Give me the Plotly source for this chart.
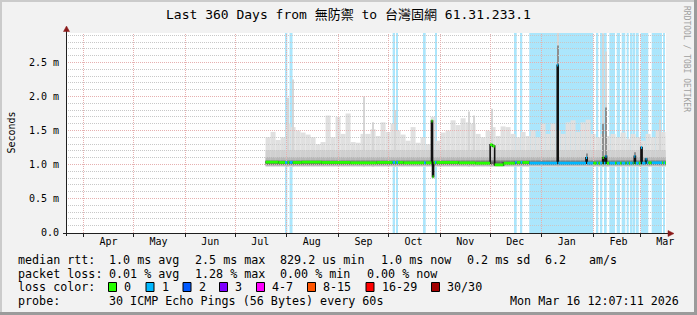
import math
import pandas as pd
import plotly.graph_objects as go

# ---------------- layout constants ----------------
W, H = 697, 315
ML, MR, MT, MB = 66, 31, 33, 82
PW, PH = W - ML - MR, H - MT - MB
MONO = "DejaVu Sans Mono, Noto Sans CJK TC, monospace"
PX_PER_MS = 68.0

T_START = "2025-03-21 12:07:11"
T_END = "2026-03-16 12:07:11"
Y_MIN, Y_MAX = -0.5 / PX_PER_MS, (PH - 0.5) / PX_PER_MS

# ---------------- data (values in ms) ----------------
y_tick_vals = [0.0, 0.5, 1.0, 1.5, 2.0, 2.5]
y_tick_text = ["0.0", "0.5 m", "1.0 m", "1.5 m", "2.0 m", "2.5 m"]

month_starts = ["2025-04-01", "2025-05-01", "2025-06-01", "2025-07-01", "2025-08-01",
                "2025-09-01", "2025-10-01", "2025-11-01", "2025-12-01", "2026-01-01",
                "2026-02-01", "2026-03-01"]
month_label_dates = ["2025-04-16", "2025-05-16", "2025-06-16", "2025-07-16", "2025-08-16",
                     "2025-09-16", "2025-10-16", "2025-11-16", "2025-12-16", "2026-01-16",
                     "2026-02-16", "2026-03-16"]
month_labels = ["Apr", "May", "Jun", "Jul", "Aug", "Sep", "Oct", "Nov", "Dec", "Jan", "Feb", "Mar"]

# packet-loss periods (background shading)
loss_start = ["2025-07-30 22:00", "2025-08-02 15:00", "2025-10-03 12:00", "2025-10-05 16:00",
              "2025-10-22 07:00", "2025-10-28 22:00", "2025-12-15 21:00", "2025-12-19 07:00",
              "2025-12-24 11:00", "2026-02-02 22:00", "2026-02-04 22:00", "2026-02-07 07:00",
              "2026-02-10 12:00", "2026-02-14 22:00", "2026-02-17 22:00", "2026-02-20 22:00",
              "2026-02-22 22:00", "2026-02-25 03:00", "2026-02-26 12:00", "2026-03-01 07:00",
              "2026-03-07 22:00", "2026-03-14 21:00"]
loss_end = ["2025-08-01 07:00", "2025-08-04 10:00", "2025-10-04 22:00", "2025-10-06 17:00",
            "2025-10-23 08:00", "2025-10-29 16:00", "2025-12-16 22:00", "2025-12-20 06:00",
            "2026-01-31 21:00", "2026-02-03 21:00", "2026-02-06 07:00", "2026-02-08 22:00",
            "2026-02-13 22:00", "2026-02-16 22:00", "2026-02-20 02:00", "2026-02-22 03:00",
            "2026-02-24 12:00", "2026-02-26 02:00", "2026-02-28 03:00", "2026-03-05 21:00",
            "2026-03-14 02:00", "2026-03-15 21:00"]

# smoke (max of the 30 pings), 3-day bins
smoke_bin_start = "2025-07-19 06:00"
smoke_bin_days = 3
smoke_top = [1.40, 1.48, 1.36, 1.40, 1.60, 1.55, 1.50, 1.47, 1.44, 1.40,
             1.30, 1.33, 1.72, 1.40, 1.70, 1.45, 1.75, 1.33, 1.32, 1.45,
             1.45, 1.52, 1.42, 1.62, 1.48, 1.60, 1.50, 1.44, 1.35, 1.55,
             1.32, 1.40, 1.30, 1.70, 1.35, 1.47, 1.50, 1.65, 1.58, 1.68,
             1.62, 1.60, 1.45, 1.40, 1.50, 1.55, 1.42, 1.56, 1.55, 1.45,
             1.40, 1.48, 1.42, 1.50, 1.40, 1.60, 1.45, 1.60, 1.50, 1.45,
             1.62, 1.65, 1.48, 1.62, 1.66, 1.45, 1.40, 1.45, 1.42, 1.45,
             1.40, 1.47, 1.38, 1.45, 1.40, 1.35, 1.45, 1.40, 1.50, 1.48,
             1.42]
smoke_floor = 0.965
smoke_inner_lo = [0.975, 0.985, 0.99, 1.00]
smoke_inner_hi = [1.21, 1.11, 1.065, 1.045]

# narrow smoke spikes (single columns)
spike_t = ["2025-08-01 19:00", "2025-08-04 17:00", "2025-09-16 07:00", "2025-09-21 17:00",
           "2025-10-04 22:00", "2025-11-18 07:00", "2025-11-21 07:00", "2025-12-02 02:00",
           "2026-01-10 13:00", "2026-02-06 21:00", "2026-02-08 12:00", "2026-03-01 19:00",
           "2026-03-12 21:00"]
spike_top = [1.98, 2.25, 2.00, 1.62, 1.80, 1.78, 1.72, 1.82, 2.94, 2.93, 2.66, 1.32, 1.66]
dark_spike_t = ["2026-01-10 13:00", "2026-02-06 21:00", "2026-02-08 12:00",
                "2026-01-28 00:00", "2026-02-25 22:00"]
dark_spike_top = [2.75, 1.60, 1.84, 1.16, 1.18]

# median rtt, step changes
median_t = ["2025-07-19 06:00", "2025-07-27 00:00", "2025-08-10 00:00", "2025-08-22 00:00",
            "2025-09-08 00:00", "2025-09-24 00:00", "2025-10-10 00:00", "2025-10-26 19:00",
            "2025-10-27 10:00", "2025-10-28 02:00", "2025-11-12 00:00", "2025-11-22 00:00",
            "2025-12-01 00:00", "2025-12-02 10:00", "2025-12-03 17:00", "2025-12-09 00:00",
            "2025-12-16 00:00", "2025-12-24 11:00", "2026-01-10 06:00", "2026-01-10 20:00",
            "2026-01-27 12:00", "2026-01-28 04:00", "2026-02-06 12:00", "2026-02-07 04:00",
            "2026-02-08 04:00", "2026-02-08 20:00", "2026-02-25 12:00", "2026-02-26 04:00",
            "2026-03-01 12:00", "2026-03-02 04:00", "2026-03-04 06:00", "2026-03-04 22:00"]
median_v = [1.035, 1.03, 1.035, 1.03, 1.025, 1.03, 1.025, 1.64,
            0.82, 1.03, 1.025, 1.02, 1.29, 1.27, 0.995, 1.02,
            1.03, 1.02, 2.46, 1.02, 1.10, 1.02, 1.10, 1.02,
            1.12, 1.02, 1.12, 1.02, 1.25, 1.02, 1.08, 1.025]
median_end = "2026-03-16 12:00"

# legend text
title_text = "Last 360 Days from 無防禦 to 台灣固網 61.31.233.1"
legend_line1 = [("median rtt:", 16), ("1.0 ms avg", 107), ("2.5 ms max", 193),
                ("829.2 us min", 278), ("1.0 ms now", 379), ("0.2 ms sd", 465),
                ("6.2", 543), ("am/s", 587)]
legend_line2 = [("packet loss:", 16), ("0.01 % avg", 107), ("1.28 % max", 193),
                ("0.00 % min", 278), ("0.00 % now", 365)]
loss_color_labels = ["0", "1", "2", "3", "4-7", "8-15", "16-29", "30/30"]
loss_color_values = ["#26ff00", "#00b8ff", "#0059ff", "#7e00ff", "#ff00ff", "#ff5500",
                     "#ff0000", "#a10000"]
loss_box_x = [108, 145.5, 182.5, 219, 256, 307, 365.5, 431]
probe_text = "30 ICMP Echo Pings (56 Bytes) every 60s"
stamp_text = "Mon Mar 16 12:07:11 2026"

# ---------------- styles ----------------
LOSS_BG = "#abe6fc"
SMOKE_LIGHT = "#e0e0e0"
SMOKE_INNER = ["#d0d0d0", "#b8b8b8", "#959595", "#6a6a6a"]
SPIKE_LIGHT = "#d6d6d6"
SPIKE_DARK = "#8e8e8e"
GRID_MINOR = "#c8c8c8"
GRID_MAJOR = "#e6b0b0"
GREEN = loss_color_values[0]
BLUE = loss_color_values[1]

t0, t1 = pd.Timestamp(T_START), pd.Timestamp(T_END)


def px(x):
    return (x - ML) / PW


def py(y):
    return (MT + PH - y) / PH


def snap_t(t):
    f = (pd.Timestamp(t) - t0) / (t1 - t0) * PW
    return t0 + (t1 - t0) * ((math.floor(f) + 0.5) / PW)


def snap_v(v):
    f = (v - Y_MIN) * PX_PER_MS
    return Y_MIN + (math.floor(f) + 0.5) / PX_PER_MS


fig = go.Figure()

# loss shading
ls = pd.to_datetime(loss_start)
le = pd.to_datetime(loss_end)
fig.add_trace(go.Bar(x=ls + (le - ls) / 2, y=[Y_MAX - Y_MIN] * len(ls), base=Y_MIN,
                     width=[(b - a).total_seconds() * 1000 for a, b in zip(ls, le)],
                     marker=dict(color=LOSS_BG, line=dict(width=0)), hoverinfo="skip"))

# smoke
bin0 = pd.Timestamp(smoke_bin_start)
bw = pd.Timedelta(days=smoke_bin_days)
centers = [bin0 + bw * (k + 0.5) for k in range(len(smoke_top))]
bw_ms = bw.total_seconds() * 1000
fig.add_trace(go.Bar(x=centers, y=[v - smoke_floor for v in smoke_top], base=smoke_floor,
                     width=bw_ms, marker=dict(color=SMOKE_LIGHT, line=dict(width=0)),
                     hoverinfo="skip"))
col_ms = pd.Timedelta(hours=16).total_seconds() * 1000
fig.add_trace(go.Bar(x=pd.to_datetime(spike_t), y=[v - smoke_floor for v in spike_top],
                     base=smoke_floor, width=col_ms,
                     marker=dict(color=SPIKE_LIGHT, line=dict(width=0)), hoverinfo="skip"))
for lo, hi, c in zip(smoke_inner_lo, smoke_inner_hi, SMOKE_INNER):
    fig.add_trace(go.Bar(x=centers, y=[hi - lo] * len(centers), base=lo, width=bw_ms,
                         marker=dict(color=c, line=dict(width=0)), hoverinfo="skip"))
fig.add_trace(go.Bar(x=pd.to_datetime(dark_spike_t), y=[v - 1.0 for v in dark_spike_top],
                     base=1.0, width=col_ms,
                     marker=dict(color=SPIKE_DARK, line=dict(width=0)), hoverinfo="skip"))

# grid drawn over shading (snapped to pixel centres)
hx, hy, mx, my = [], [], [], []
for i in range(1, 30):
    v = snap_v(i / 10)
    if i % 5 == 0:
        mx += [t0, t1, None]
        my += [v, v, None]
    else:
        hx += [t0, t1, None]
        hy += [v, v, None]
for m in month_starts:
    ts = snap_t(m)
    mx += [ts, ts, None]
    my += [Y_MIN, Y_MAX, None]
fig.add_trace(go.Scatter(x=hx, y=hy, mode="lines", hoverinfo="skip",
                         line=dict(color=GRID_MINOR, width=1, dash="1px,1px")))
fig.add_trace(go.Scatter(x=mx, y=my, mode="lines", hoverinfo="skip",
                         line=dict(color=GRID_MAJOR, width=1, dash="1px,1px")))

# median line: black steps, coloured by loss
mt = list(pd.to_datetime(median_t)) + [pd.Timestamp(median_end)]
fig.add_trace(go.Scatter(x=mt, y=median_v + [median_v[-1]], mode="lines",
                         line=dict(color="#111111", width=1.6, shape="hv"), hoverinfo="skip"))
edges = set(mt)
for a, b in zip(ls, le):
    edges.add(a)
    edges.add(b)
edges = sorted(e for e in edges if mt[0] <= e <= mt[-1])


def med_at(t):
    idx = 0
    for i in range(len(median_v)):
        if mt[i] <= t:
            idx = i
    return median_v[idx]


def in_loss(t):
    return any(a <= t < b for a, b in zip(ls, le))


gx, gy, bx, by = [], [], [], []
for a, b in zip(edges[:-1], edges[1:]):
    m = a + (b - a) / 2
    v = med_at(m)
    if in_loss(m):
        bx += [a, b, None]
        by += [v, v, None]
    else:
        gx += [a, b, None]
        gy += [v, v, None]
fig.add_trace(go.Scatter(x=gx, y=gy, mode="lines", line=dict(color=GREEN, width=2.8),
                         hoverinfo="skip"))
fig.add_trace(go.Scatter(x=bx, y=by, mode="lines", line=dict(color=BLUE, width=2.8),
                         hoverinfo="skip"))

# ---------------- annotations ----------------
ann = []


def txt(s, x, y, size=11.7, xanchor="left", color="#000000", angle=0, yanchor="middle"):
    ann.append(dict(text=s.replace(" ", "\u00a0"), x=px(x), y=py(y), xref="paper",
                    yref="paper", xanchor=xanchor, yanchor=yanchor, showarrow=False,
                    textangle=angle, font=dict(family=MONO, size=size, color=color)))


txt(title_text, 348.5, 15, size=13, xanchor="center")
txt("Seconds", 10.5, 133, size=10, xanchor="center", angle=-90)
txt("RRDTOOL / TOBI OETIKER", 687, 59, size=8, xanchor="center", color="#a0a0a0", angle=90)
for s, x in legend_line1:
    txt(s, x, 259.5)
for s, x in legend_line2:
    txt(s, x, 273.5)
txt("loss color:", 16, 287)
for lab, bxp in zip(loss_color_labels, loss_box_x):
    txt(lab, bxp + 14, 287)
txt("probe:", 16, 301)
txt(probe_text, 107, 301)
txt(stamp_text, 681, 301, xanchor="right")

# y tick labels placed on the y scale
for v, s in zip(y_tick_vals, y_tick_text):
    ann.append(dict(text=s.replace(" ", "\u00a0"), x=px(60.5), y=v, xref="paper", yref="y",
                    xanchor="right", yanchor="middle", showarrow=False,
                    font=dict(family=MONO, size=10, color="#000000")))

shapes = []


def rect_px(x0, y0, x1, y1, fill, line=None):
    shapes.append(dict(type="rect", xref="paper", yref="paper", x0=px(x0), x1=px(x1),
                       y0=py(y1), y1=py(y0), fillcolor=fill,
                       line=dict(width=1 if line else 0, color=line or fill), layer="above"))


for c, bxp in zip(loss_color_values, loss_box_x):
    rect_px(bxp + 0.5, 282.5, bxp + 8.5, 291.5, c, "#000000")

# frame
rect_px(0, 0, W, 2, "#cbcbcb")
rect_px(0, 0, 2, H, "#cbcbcb")
rect_px(0, H - 3, W, H, "#9b9b9b")
rect_px(W - 3, 0, W, H, "#9b9b9b")

# axes lines and arrows
AX = "#202020"
ARROW = "#8b1a1a"
shapes.append(dict(type="line", xref="paper", yref="paper", x0=px(63), x1=px(669),
                   y0=py(233.5), y1=py(233.5), line=dict(color=AX, width=1), layer="above"))
shapes.append(dict(type="line", xref="paper", yref="paper", x0=px(66.5), x1=px(66.5),
                   y0=py(236), y1=py(30), line=dict(color=AX, width=1), layer="above"))


def tri(points, color):
    p = "M " + " L ".join(f"{px(x)},{py(y)}" for x, y in points) + " Z"
    shapes.append(dict(type="path", xref="paper", yref="paper", path=p, fillcolor=color,
                       line=dict(color=color, width=0.5), layer="above"))


tri([(63.5, 31.5), (69.5, 31.5), (66.5, 26)], ARROW)
tri([(668, 230.5), (668, 236.5), (674, 233.5)], ARROW)

fig.update_layout(
    width=W, height=H, margin=dict(l=ML, r=MR, t=MT, b=MB, pad=0),
    paper_bgcolor="#f2f2f2", plot_bgcolor="#ffffff",
    barmode="overlay", showlegend=False, hovermode=False,
    annotations=ann, shapes=shapes,
    xaxis=dict(type="date", range=[T_START, T_END], tickmode="array",
               tickvals=month_label_dates, ticktext=month_labels, ticks="",
               showgrid=False, zeroline=False, showline=False, ticklabelstandoff=1,
               tickfont=dict(family=MONO, size=10, color="#000000"),
               minor=dict(tickmode="array", tickvals=month_starts, ticks="outside",
                          ticklen=3, tickwidth=1, tickcolor=AX, showgrid=False)),
    yaxis=dict(range=[Y_MIN, Y_MAX], showticklabels=False, ticks="", showgrid=False,
               zeroline=False, showline=False),
)

fig.write_html("out.html")
